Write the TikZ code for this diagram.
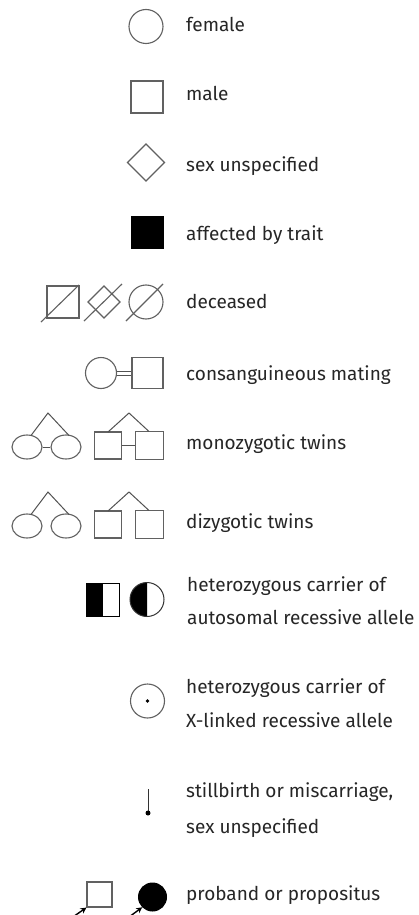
\documentclass[tikz,border=0pt]{standalone}
\usepackage{fontspec}
\setmainfont{Fira Sans}
\usetikzlibrary{arrows.meta,shapes.geometric}
\begin{document}
\begin{tikzpicture}[x=1pt,y=-1pt,
  sym/.style={draw=black!62,line width=1.1pt},
  fillsym/.style={draw=black,fill=black,line width=1pt},
  lbl/.style={anchor=base west,inner sep=0pt,font=\fontsize{19}{22}\selectfont,text=black!85},
  link/.style={draw=black!68,line width=1pt},
  parrow/.style={draw=black,line width=1.4pt,-{Stealth[length=6pt,width=6pt]}}]
\useasboundingbox[fill=white] (0,0) rectangle (419,915);
\clip (0,0) rectangle (419,915);
% female
\node[sym,circle,minimum size=34pt,inner sep=0pt] (fem) at (146,26.5) {};
\node[lbl] (tfem) at (186,32) {female};
% male
\node[sym,rectangle,minimum size=32pt,inner sep=0pt] (mal) at (147,97) {};
\node[lbl] (tmal) at (186,101) {male};
% sex unspecified
\draw[sym] (146,144) coordinate (d1) -- (164.5,162.5) -- (146,181) -- (127.5,162.5) -- cycle;
\node[lbl] (tsex) at (186,171) {sex unspecified};
% affected
\node[fillsym,rectangle,minimum size=32pt,inner sep=0pt] (aff) at (147,232.5) {};
\node[lbl] (taff) at (186,240) {affected by trait};
% deceased
\node[sym,rectangle,minimum size=32pt,inner sep=0pt] (dsq) at (63,302) {};
\draw[sym] (41,322) -- (79,285);
\draw[sym] (104,286) -- (120,302) -- (104,318) -- (88,302) -- cycle;
\draw[sym] (84,321) -- (122,284);
\node[sym,circle,minimum size=34pt,inner sep=0pt] (dci) at (146,302) {};
\draw[sym] (126,321) -- (163,284);
\node[lbl] (tdec) at (186,308) {deceased};
% consanguineous
\node[sym,circle,minimum size=31pt,inner sep=0pt] (cci) at (101,373) {};
\node[sym,rectangle,minimum size=31pt,inner sep=0pt] (csq) at (147.5,373) {};
\draw[link] ([yshift=-2pt]cci.east) -- ([yshift=-2pt]csq.west);
\draw[link] ([yshift=2pt]cci.east) -- ([yshift=2pt]csq.west);
\node[lbl] (tcon) at (186,380) {consanguineous mating};
% monozygotic
\node[sym,ellipse,minimum width=30pt,minimum height=24pt,inner sep=0pt] (me1) at (27,447) {};
\node[sym,ellipse,minimum width=30pt,minimum height=24pt,inner sep=0pt] (me2) at (66,447) {};
\draw[link] (me1.east) -- (me2.west);
\coordinate (ma1) at (48,413);
\draw[link] (31,435.5) -- (ma1) -- (69,435.5);
\node[sym,rectangle,minimum size=27pt,inner sep=0pt] (ms1) at (108,445.5) {};
\node[sym,rectangle,minimum size=28pt,inner sep=0pt] (ms2) at (149.5,445.5) {};
\draw[link] (ms1.east) -- (ms2.west);
\coordinate (ma2) at (129,413);
\draw[link] (108,432) -- (ma2) -- (149,431.5);
\node[lbl] (tmon) at (186,449) {monozygotic twins};
% dizygotic
\node[sym,ellipse,minimum width=30pt,minimum height=24pt,inner sep=0pt] (de1) at (27,526) {};
\node[sym,ellipse,minimum width=30pt,minimum height=24pt,inner sep=0pt] (de2) at (66,526) {};
\coordinate (da1) at (48,492);
\draw[link] (31,514.5) -- (da1) -- (69,514.5);
\node[sym,rectangle,minimum size=27pt,inner sep=0pt] (ds1) at (108,524.5) {};
\node[sym,rectangle,minimum size=28pt,inner sep=0pt] (ds2) at (149.5,524.5) {};
\coordinate (da2) at (129,492);
\draw[link] (108,511) -- (da2) -- (149,510.5);
\node[lbl] (tdiz) at (186,528) {dizygotic twins};
% autosomal carrier
\fill[black] (86,583) rectangle (102.5,616);
\node[draw=black,line width=1pt,rectangle,minimum size=33pt,inner sep=0pt] (asq) at (102.5,599.5) {};
\fill[black] (147,582.5) arc[start angle=90,end angle=270,radius=17pt] -- cycle;
\node[draw=black!80,line width=1pt,circle,minimum size=34pt,inner sep=0pt] (aci) at (147,599.5) {};
\node[lbl] (tau1) at (187,591) {heterozygous carrier of};
\node[lbl] (tau2) at (187,624) {autosomal recessive allele};
% X-linked carrier
\node[sym,circle,minimum size=34pt,inner sep=0pt] (xci) at (147.5,701) {};
\fill[black] (xci.center) circle[radius=1.8pt];
\node[lbl] (tx1) at (186,693) {heterozygous carrier of};
\node[lbl] (tx2) at (186,727) {X-linked recessive allele};
% stillbirth
\coordinate (sb1) at (148,789);
\coordinate (sb2) at (148,813);
\draw[draw=black!80,line width=1pt] (sb1) -- (sb2);
\fill[black] (sb2) circle[radius=2.5pt];
\node[lbl] (ts1) at (186,797) {stillbirth or miscarriage,};
\node[lbl] (ts2) at (186,833) {sex unspecified};
% proband
\node[sym,rectangle,minimum size=25pt,inner sep=0pt] (psq) at (99.5,894.5) {};
\node[fillsym,circle,minimum size=28pt,inner sep=0pt] (pci) at (152.5,897) {};
\coordinate (pa1) at (70,919);
\coordinate (pa2) at (125,920);
\draw[parrow] (pa1) -- (psq.south west);
\draw[parrow] (pa2) -- (pci.225);
\node[lbl] (tpro) at (186,900) {proband or propositus};
\end{tikzpicture}
\end{document}
